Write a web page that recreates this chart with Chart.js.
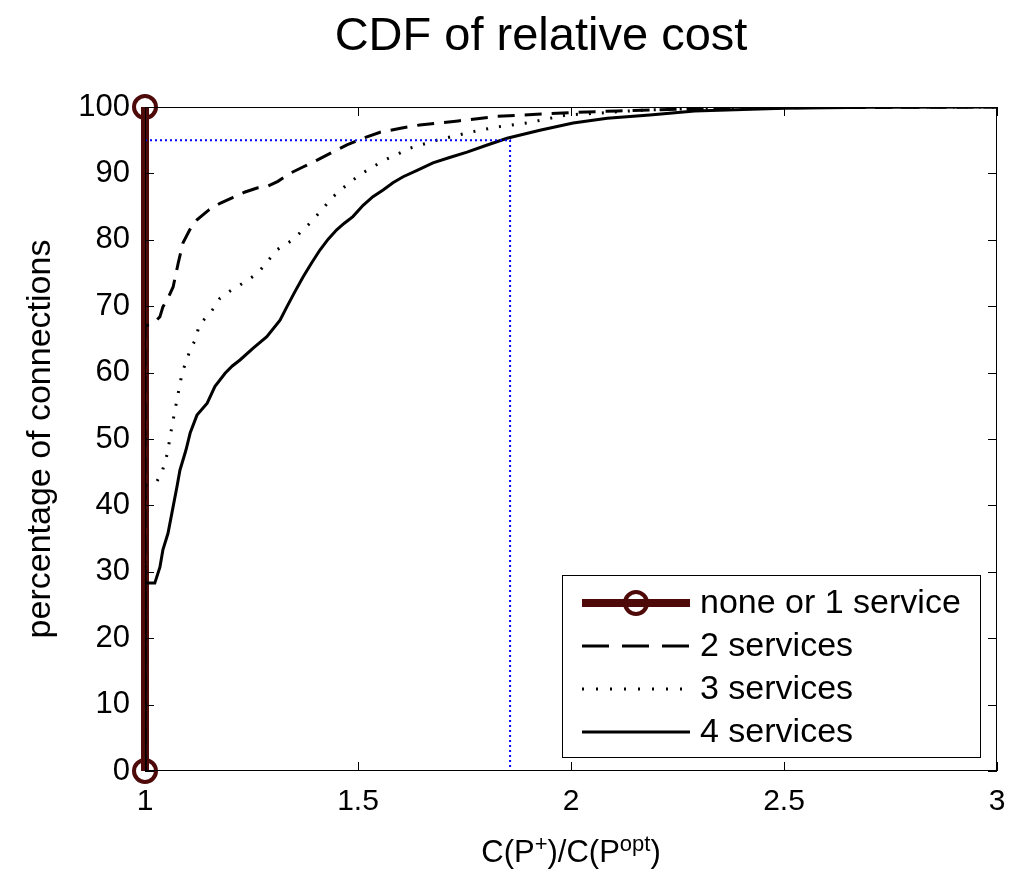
<!DOCTYPE html>
<html>
<head>
<meta charset="utf-8">
<script src="https://cdn.jsdelivr.net/npm/chart.js@4.4.0/dist/chart.umd.min.js"></script>
<style>
  html, body { margin: 0; padding: 0; background: #fff; }
  #wrap { width: 1014px; height: 874px; }
</style>
</head>
<body>
<div id="wrap"><canvas id="cdfChart" width="1014" height="874"></canvas></div>
<script>
// dati
const chartTitle = "CDF of relative cost";
const yTitle = "percentage of connections";
const legendLabels = ["none or 1 service", "2 services", "3 services", "4 services"];
const xTicks = [1, 1.5, 2, 2.5, 3];
const yTicks = [0, 10, 20, 30, 40, 50, 60, 70, 80, 90, 100];

const oneX = [1, 1];
const oneY = [0, 100];

const twoX = [1, 1, 1.023, 1.035, 1.042, 1.054, 1.066, 1.078, 1.089, 1.105, 1.122, 1.15, 1.176, 1.207, 1.235, 1.263, 1.286, 1.312, 1.34, 1.372, 1.404, 1.44, 1.474, 1.512, 1.552, 1.6, 1.645, 1.735, 1.826, 1.92, 2.01, 2.11, 2.21, 2.35, 2.5, 3];
const twoY = [0, 67, 67.6, 68.4, 69.9, 71.2, 72.9, 76.5, 79.5, 81.5, 83, 84.5, 85.5, 86.4, 87.2, 87.8, 88, 88.8, 90, 91, 92, 93.2, 94.3, 95.3, 96.2, 96.8, 97.3, 97.9, 98.6, 98.9, 99.2, 99.4, 99.6, 99.8, 99.9, 100];

const threeX = [1, 1, 1.026, 1.04, 1.052, 1.063, 1.075, 1.087, 1.096, 1.106, 1.12, 1.127, 1.146, 1.164, 1.176, 1.2, 1.223, 1.245, 1.265, 1.288, 1.31, 1.347, 1.387, 1.415, 1.44, 1.465, 1.488, 1.512, 1.535, 1.562, 1.59, 1.622, 1.685, 1.756, 1.826, 1.897, 1.99, 2.07, 2.16, 2.3, 2.5, 3];
const threeY = [0, 43, 43.4, 45, 47.7, 51.8, 55.9, 59.9, 61.6, 63.4, 65.2, 67.2, 68.5, 69.9, 71.2, 72.3, 73.2, 74.1, 75, 76.8, 78.5, 80, 82.5, 84.5, 86.4, 87.8, 89, 90.1, 91, 92, 92.8, 93.8, 95, 96.1, 97, 97.6, 98.8, 99.1, 99.5, 99.8, 99.95, 100];

const fourX = [1, 1, 1.023, 1.035, 1.042, 1.054, 1.063, 1.075, 1.082, 1.096, 1.106, 1.122, 1.146, 1.164, 1.188, 1.205, 1.223, 1.254, 1.286, 1.317, 1.333, 1.352, 1.371, 1.391, 1.411, 1.43, 1.45, 1.468, 1.488, 1.512, 1.535, 1.559, 1.582, 1.606, 1.64, 1.676, 1.715, 1.756, 1.8, 1.85, 1.927, 2.005, 2.085, 2.185, 2.29, 2.5, 2.7, 3];
const fourY = [0, 28.3, 28.3, 30.7, 33.3, 35.8, 38.8, 42.8, 45.3, 48.3, 50.9, 53.6, 55.4, 57.9, 59.9, 61, 61.9, 63.7, 65.4, 67.9, 69.9, 72.2, 74.4, 76.5, 78.5, 80.1, 81.5, 82.5, 83.5, 85.2, 86.5, 87.5, 88.6, 89.5, 90.5, 91.6, 92.4, 93.2, 94.2, 95.3, 96.5, 97.6, 98.3, 98.8, 99.4, 99.8, 99.95, 100];

// linea di riferimento blu (95%)
const refX = [1, 1.857, 1.857];
const refY = [95, 95, 0];

const brown = "#4e0909";
const font = "'Liberation Sans', Arial, sans-serif";

function toPoints(xs, ys) {
    return xs.map((x, i) => ({ x: x, y: ys[i] }));
}

// titolo, etichetta asse x, tacche interne, bordo e legenda
const matlabPlugin = {
    id: "matlabStyle",
    afterDraw(chart) {
        const ctx = chart.ctx;
        const area = chart.chartArea;
        const xs = chart.scales.x;
        const ys = chart.scales.y;
        ctx.save();

        // box
        ctx.strokeStyle = "#000";
        ctx.lineWidth = 1;
        ctx.strokeRect(area.left + 0.5, area.top + 0.5, area.right - area.left - 1, area.bottom - area.top - 1);

        // tacche verso l'interno
        const tl = 9;
        ctx.beginPath();
        xTicks.forEach((v) => {
            const px = Math.round(xs.getPixelForValue(v)) + 0.5;
            ctx.moveTo(px, area.bottom);
            ctx.lineTo(px, area.bottom - tl);
            ctx.moveTo(px, area.top);
            ctx.lineTo(px, area.top + tl);
        });
        yTicks.forEach((v) => {
            const py = Math.round(ys.getPixelForValue(v)) + 0.5;
            ctx.moveTo(area.left, py);
            ctx.lineTo(area.left + tl, py);
            ctx.moveTo(area.right, py);
            ctx.lineTo(area.right - tl, py);
        });
        ctx.stroke();

        // titolo
        ctx.fillStyle = "#000";
        ctx.font = "47px " + font;
        ctx.textAlign = "center";
        ctx.textBaseline = "alphabetic";
        ctx.fillText(chartTitle, 541, 50);

        // etichetta asse x con apici
        const parts = [
            { t: "C(P", sup: false },
            { t: "+", sup: true },
            { t: ")/C(P", sup: false },
            { t: "opt", sup: true },
            { t: ")", sup: false },
        ];
        const bigF = "31px " + font;
        const smallF = "22px " + font;
        let total = 0;
        parts.forEach((p) => {
            ctx.font = p.sup ? smallF : bigF;
            p.w = ctx.measureText(p.t).width;
            total += p.w;
        });
        let cx = (area.left + area.right) / 2 - total / 2;
        ctx.textAlign = "left";
        parts.forEach((p) => {
            ctx.font = p.sup ? smallF : bigF;
            ctx.fillText(p.t, cx, p.sup ? 851 : 862);
            cx += p.w;
        });

        // legenda
        const lx = 562, ly = 575, lw = 418, lh = 182;
        ctx.fillStyle = "#fff";
        ctx.fillRect(lx, ly, lw, lh);
        ctx.strokeStyle = "#000";
        ctx.lineWidth = 1;
        ctx.strokeRect(lx + 0.5, ly + 0.5, lw, lh);

        const rows = [603, 646, 689, 732];
        const x0 = 582, x1 = 690;
        ctx.lineCap = "butt";
        // riga 1
        ctx.strokeStyle = brown;
        ctx.lineWidth = 8;
        ctx.beginPath();
        ctx.moveTo(x0, rows[0]);
        ctx.lineTo(x1, rows[0]);
        ctx.stroke();
        ctx.lineWidth = 4;
        ctx.beginPath();
        ctx.arc((x0 + x1) / 2, rows[0], 11, 0, Math.PI * 2);
        ctx.stroke();
        // riga 2
        ctx.strokeStyle = "#000";
        ctx.lineWidth = 3;
        ctx.setLineDash([27, 13]);
        ctx.beginPath();
        ctx.moveTo(x0, rows[1]);
        ctx.lineTo(x1, rows[1]);
        ctx.stroke();
        // riga 3
        ctx.setLineDash([2, 12]);
        ctx.beginPath();
        ctx.moveTo(x0, rows[2]);
        ctx.lineTo(x1, rows[2]);
        ctx.stroke();
        // riga 4
        ctx.setLineDash([]);
        ctx.beginPath();
        ctx.moveTo(x0, rows[3]);
        ctx.lineTo(x1, rows[3]);
        ctx.stroke();

        ctx.fillStyle = "#000";
        ctx.font = "34px " + font;
        ctx.textAlign = "left";
        ctx.textBaseline = "middle";
        legendLabels.forEach((lab, i) => {
            ctx.fillText(lab, 700, rows[i] + 1);
        });

        ctx.restore();
    },
};

const ctx = document.getElementById("cdfChart").getContext("2d");
new Chart(ctx, {
    type: "scatter",
    data: {
        datasets: [
            {
                label: "ref",
                data: toPoints(refX, refY),
                showLine: true,
                borderColor: "#0000ff",
                borderWidth: 2,
                borderDash: [2, 3],
                pointRadius: 0,
                order: 1,
            },
            {
                label: legendLabels[3],
                data: toPoints(fourX, fourY),
                showLine: true,
                borderColor: "#000",
                borderWidth: 3,
                pointRadius: 0,
                order: 2,
            },
            {
                label: legendLabels[2],
                data: toPoints(threeX, threeY),
                showLine: true,
                borderColor: "#000",
                borderWidth: 3,
                borderDash: [2, 11],
                pointRadius: 0,
                order: 3,
            },
            {
                label: legendLabels[1],
                data: toPoints(twoX, twoY),
                showLine: true,
                borderColor: "#000",
                borderWidth: 3,
                borderDash: [17, 10],
                pointRadius: 0,
                order: 4,
            },
            {
                label: legendLabels[0],
                data: toPoints(oneX, oneY),
                showLine: true,
                borderColor: brown,
                borderWidth: 8,
                pointRadius: 11,
                pointBorderWidth: 4,
                pointBorderColor: brown,
                pointBackgroundColor: "rgba(0,0,0,0)",
                clip: false,
                order: 10,
            },
        ],
    },
    options: {
        responsive: false,
        animation: false,
        layout: { padding: { top: 107, right: 17, left: 0, bottom: 0 } },
        plugins: {
            legend: { display: false },
            title: { display: false },
            tooltip: { enabled: false },
        },
        scales: {
            x: {
                type: "linear",
                min: 1,
                max: 3,
                afterBuildTicks: (scale) => {
                    scale.ticks = xTicks.map((v) => ({ value: v }));
                },
                afterFit: (scale) => {
                    scale.height = 103;
                    scale.paddingLeft = 0;
                    scale.paddingRight = 0;
                },
                grid: { display: false, drawTicks: false },
                border: { display: false },
                ticks: {
                    padding: 13,
                    color: "#000",
                    font: { size: 30, family: font },
                    maxRotation: 0,
                    callback: (v) => String(v),
                },
            },
            y: {
                type: "linear",
                min: 0,
                max: 100,
                afterBuildTicks: (scale) => {
                    scale.ticks = yTicks.map((v) => ({ value: v }));
                },
                afterFit: (scale) => {
                    scale.width = 145;
                    scale.paddingTop = 0;
                    scale.paddingBottom = 0;
                },
                grid: { display: false, drawTicks: false },
                border: { display: false },
                ticks: {
                    padding: 15,
                    color: "#000",
                    font: { size: 31, family: font },
                    callback: (v) => String(v),
                },
                title: {
                    display: true,
                    text: yTitle,
                    color: "#000",
                    font: { size: 34, family: font },
                    padding: { top: 20, bottom: 0 },
                },
            },
        },
    },
    plugins: [matlabPlugin],
});
</script>
</body>
</html>
